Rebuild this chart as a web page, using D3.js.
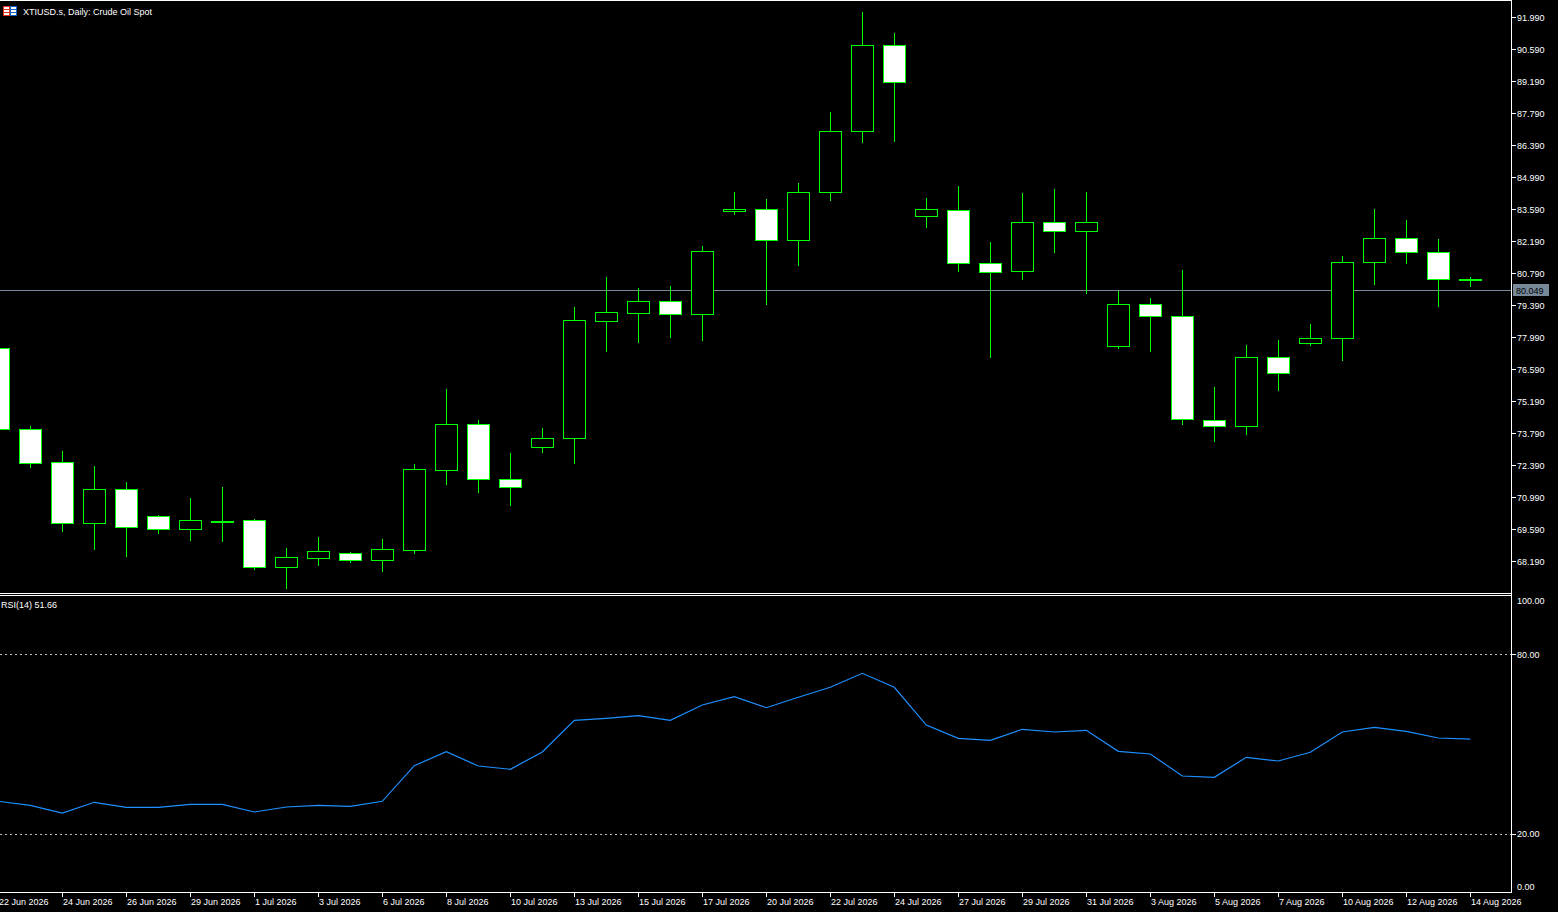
<!DOCTYPE html>
<html>
<head>
<meta charset="utf-8">
<script src="https://cdn.jsdelivr.net/npm/d3@7/dist/d3.min.js"></script>
<style>
  html, body { margin: 0; padding: 0; background: #000; }
  svg { display: block; }
  text { font-family: "Liberation Sans", Arial, sans-serif; font-size: 9px; fill: #fff; }
</style>
</head>
<body>
<svg id="chart" width="1558" height="912"></svg>
<script>
// ---------------- DATA ----------------
const dates = [
  "22 Jun 2026","23 Jun 2026","24 Jun 2026","25 Jun 2026","26 Jun 2026","28 Jun 2026",
  "29 Jun 2026","30 Jun 2026","1 Jul 2026","2 Jul 2026","3 Jul 2026","5 Jul 2026",
  "6 Jul 2026","7 Jul 2026","8 Jul 2026","9 Jul 2026","10 Jul 2026","12 Jul 2026",
  "13 Jul 2026","14 Jul 2026","15 Jul 2026","16 Jul 2026","17 Jul 2026","19 Jul 2026",
  "20 Jul 2026","21 Jul 2026","22 Jul 2026","23 Jul 2026","24 Jul 2026","26 Jul 2026",
  "27 Jul 2026","28 Jul 2026","29 Jul 2026","30 Jul 2026","31 Jul 2026","2 Aug 2026",
  "3 Aug 2026","4 Aug 2026","5 Aug 2026","6 Aug 2026","7 Aug 2026","9 Aug 2026",
  "10 Aug 2026","11 Aug 2026","12 Aug 2026","13 Aug 2026","14 Aug 2026"
];
const openP = [
  77.51,73.97,72.52,69.85,71.34,70.16,69.59,69.97,69.98,67.93,68.35,68.54,
  68.23,68.70,72.20,74.18,71.78,73.18,73.57,78.72,79.07,79.57,79.00,83.50,
  83.59,82.23,84.33,87.00,90.77,83.28,83.55,81.23,80.88,83.02,82.63,77.62,
  79.43,78.91,74.36,74.10,77.11,77.73,77.95,81.27,82.32,81.71,80.55
];
const highP = [
  77.65,74.11,73.02,72.36,71.66,70.22,70.96,71.44,70.04,68.77,69.25,68.60,
  69.17,72.45,75.73,74.37,72.93,74.02,79.32,80.63,80.15,80.24,81.98,84.35,
  84.04,84.74,87.85,92.22,91.30,84.08,84.61,82.16,84.30,84.48,84.35,80.02,
  79.71,80.93,75.82,77.65,77.87,78.57,81.55,83.60,83.12,82.29,80.63
];
const lowP = [
  73.85,72.33,69.53,68.74,68.44,69.44,69.14,69.09,67.87,67.04,68.04,68.17,
  67.78,68.57,71.59,71.24,70.67,72.99,72.49,77.40,77.80,78.02,77.88,83.40,
  79.46,81.17,84.01,86.55,86.59,82.83,80.90,77.14,80.55,81.74,79.94,77.54,
  77.40,74.21,73.47,73.77,75.70,77.67,77.01,80.33,81.24,79.37,80.25
];
const closeP = [
  73.97,72.50,69.85,71.34,69.68,69.59,69.98,69.95,67.93,68.37,68.63,68.23,
  68.71,72.21,74.18,71.78,71.43,73.57,78.73,79.08,79.57,79.00,81.75,83.59,
  82.23,84.33,87.00,90.77,89.15,83.59,81.23,80.83,83.02,82.63,83.02,79.43,
  78.91,74.40,74.10,77.11,76.41,77.95,81.27,82.32,81.71,80.55,80.56
];
const rsiValues = [
  30.84,29.50,26.92,30.50,28.83,28.83,29.83,29.83,27.26,28.93,29.50,29.16,
  30.84,42.74,47.42,42.64,41.54,47.32,57.93,58.60,59.46,57.93,63.04,65.82,
  62.14,65.62,68.96,73.65,68.96,56.35,51.91,51.24,54.92,54.01,54.58,47.56,
  46.66,39.30,38.86,45.55,44.31,47.22,54.01,55.59,54.25,52.01,51.66
];
const priceTicks = [91.99,90.59,89.19,87.79,86.39,84.99,83.59,82.19,80.79,79.39,
                    77.99,76.59,75.19,73.79,72.39,70.99,69.59,68.19];
const rsiTickLabels = [100, 80, 20, 0];
const rsiLevels = [80, 20];
const currentPrice = 80.049;
const titleText = "XTIUSD.s, Daily:  Crude Oil Spot";
const rsiLabel = "RSI(14) 51.66";

// ---------------- LAYOUT ----------------
const axisX = 1511;
const mainTop = 1, mainBottom = 593;
const rsiTop = 595, rsiBottom = 892;
const green = "#00ff00";

const svg = d3.select("#chart");
svg.append("rect").attr("width", 1558).attr("height", 912).attr("fill", "#000");

const x = d3.scaleLinear().domain([0, dates.length - 1]).range([-1.7, -1.7 + 32 * (dates.length - 1)]);
const y = d3.scaleLinear().domain([66.803, 92.703]).range([mainBottom, mainTop]);
const yr = d3.scaleLinear().domain([0, 100]).range([893.5, 594.5]);

const px = v => Math.round(v) + 0.5;

const defs = svg.append("defs");
defs.append("clipPath").attr("id", "clipMain").append("rect")
  .attr("x", 0).attr("y", mainTop).attr("width", axisX).attr("height", mainBottom - mainTop);
defs.append("clipPath").attr("id", "clipRsi").append("rect")
  .attr("x", 0).attr("y", rsiTop + 1).attr("width", axisX).attr("height", rsiBottom - rsiTop - 1);

// ---------------- FRAMES ----------------
const frame = svg.append("g").attr("stroke", "#fff").attr("stroke-width", 1).attr("shape-rendering", "crispEdges");
frame.append("line").attr("x1", 0).attr("x2", axisX + 0.5).attr("y1", 0.5).attr("y2", 0.5);
frame.append("line").attr("x1", 0).attr("x2", axisX + 0.5).attr("y1", mainBottom + 0.5).attr("y2", mainBottom + 0.5);
frame.append("line").attr("x1", 0).attr("x2", axisX + 0.5).attr("y1", rsiTop + 0.5).attr("y2", rsiTop + 0.5);
frame.append("line").attr("x1", 0).attr("x2", axisX + 0.5).attr("y1", rsiBottom + 0.5).attr("y2", rsiBottom + 0.5);
frame.append("line").attr("x1", axisX + 0.5).attr("x2", axisX + 0.5).attr("y1", 0).attr("y2", rsiBottom + 1);

// ---------------- MAIN PANE ----------------
const main = svg.append("g").attr("clip-path", "url(#clipMain)");

// current price line
main.append("line")
  .attr("x1", 0).attr("x2", axisX)
  .attr("y1", px(y(currentPrice))).attr("y2", px(y(currentPrice)))
  .attr("stroke", "#778899").attr("stroke-width", 1).attr("shape-rendering", "crispEdges");

const candles = main.append("g").attr("shape-rendering", "crispEdges");
const idx = d3.range(dates.length);

candles.selectAll("line.wick").data(idx).join("line")
  .attr("class", "wick")
  .attr("x1", i => px(x(i))).attr("x2", i => px(x(i)))
  .attr("y1", i => Math.round(y(highP[i]))).attr("y2", i => Math.round(y(lowP[i])) + 1)
  .attr("stroke", green).attr("stroke-width", 1);

candles.selectAll("rect.body").data(idx).join("rect")
  .attr("class", "body")
  .attr("x", i => Math.round(x(i)) - 10.5)
  .attr("width", 22)
  .attr("y", i => Math.round(y(Math.max(openP[i], closeP[i]))) + 0.5)
  .attr("height", i => Math.max(1, Math.round(y(Math.min(openP[i], closeP[i]))) - Math.round(y(Math.max(openP[i], closeP[i])))))
  .attr("fill", i => closeP[i] < openP[i] ? "#fff" : "#000")
  .attr("stroke", green).attr("stroke-width", 1);

// title
const title = svg.append("g");
title.append("rect").attr("x", 3.5).attr("y", 6.5).attr("width", 6).attr("height", 9).attr("fill", "#fff").attr("stroke", "#e03020");
title.append("rect").attr("x", 10.5).attr("y", 6.5).attr("width", 6).attr("height", 9).attr("fill", "#fff").attr("stroke", "#1060c0");
[9.5, 12.5].forEach(yy => {
  title.append("line").attr("x1", 4).attr("x2", 9).attr("y1", yy).attr("y2", yy).attr("stroke", "#e03020");
  title.append("line").attr("x1", 11).attr("x2", 16).attr("y1", yy).attr("y2", yy).attr("stroke", "#1060c0");
});
title.append("text").attr("x", 23).attr("y", 15).text(titleText);

// price axis
const pAxis = svg.append("g");
pAxis.selectAll("line").data(priceTicks).join("line")
  .attr("x1", axisX + 1).attr("x2", axisX + 5)
  .attr("y1", d => px(y(d))).attr("y2", d => px(y(d)))
  .attr("stroke", "#fff").attr("shape-rendering", "crispEdges");
pAxis.selectAll("text").data(priceTicks).join("text")
  .attr("x", axisX + 6).attr("y", d => y(d) + 3.3)
  .text(d => d3.format(".3f")(d));

// current price box
const cpY = Math.round(y(currentPrice));
svg.append("rect").attr("x", axisX + 2).attr("y", cpY - 6).attr("width", 36).attr("height", 12).attr("fill", "#778899");
svg.append("text").attr("x", axisX + 5).attr("y", cpY + 3.5).style("fill", "#000").text(d3.format(".3f")(currentPrice));

// ---------------- RSI PANE ----------------
const rsiG = svg.append("g").attr("clip-path", "url(#clipRsi)");
rsiG.selectAll("line.level").data(rsiLevels).join("line")
  .attr("class", "level")
  .attr("x1", 0).attr("x2", axisX)
  .attr("y1", d => px(yr(d))).attr("y2", d => px(yr(d)))
  .attr("stroke", "#c0c0c0").attr("stroke-dasharray", "2,3").attr("shape-rendering", "crispEdges");

rsiG.append("path")
  .datum(idx)
  .attr("d", d3.line().x(i => x(i)).y(i => yr(rsiValues[i])))
  .attr("fill", "none").attr("stroke", "#1e90ff").attr("stroke-width", 1.2);

svg.append("text").attr("x", 1).attr("y", 608).text(rsiLabel);

const rAxis = svg.append("g");
rAxis.selectAll("line").data(rsiLevels).join("line")
  .attr("x1", axisX + 1).attr("x2", axisX + 5)
  .attr("y1", d => px(yr(d))).attr("y2", d => px(yr(d)))
  .attr("stroke", "#fff").attr("shape-rendering", "crispEdges");
rAxis.selectAll("text").data(rsiTickLabels).join("text")
  .attr("x", axisX + 6)
  .attr("y", d => d === 100 ? yr(d) + 9 : d === 0 ? yr(d) - 4 : yr(d) + 3.3)
  .text(d => d3.format(".2f")(d));

// ---------------- TIME AXIS ----------------
const tickIdx = idx.filter(i => i % 2 === 0);
const tAxis = svg.append("g");
tAxis.selectAll("line").data(tickIdx).join("line")
  .attr("x1", i => px(x(i))).attr("x2", i => px(x(i)))
  .attr("y1", rsiBottom + 1).attr("y2", rsiBottom + 5)
  .attr("stroke", "#fff").attr("shape-rendering", "crispEdges");
tAxis.selectAll("text").data(tickIdx).join("text")
  .attr("x", i => Math.round(x(i)) + 1)
  .attr("y", 905)
  .text(i => dates[i]);
</script>
</body>
</html>
